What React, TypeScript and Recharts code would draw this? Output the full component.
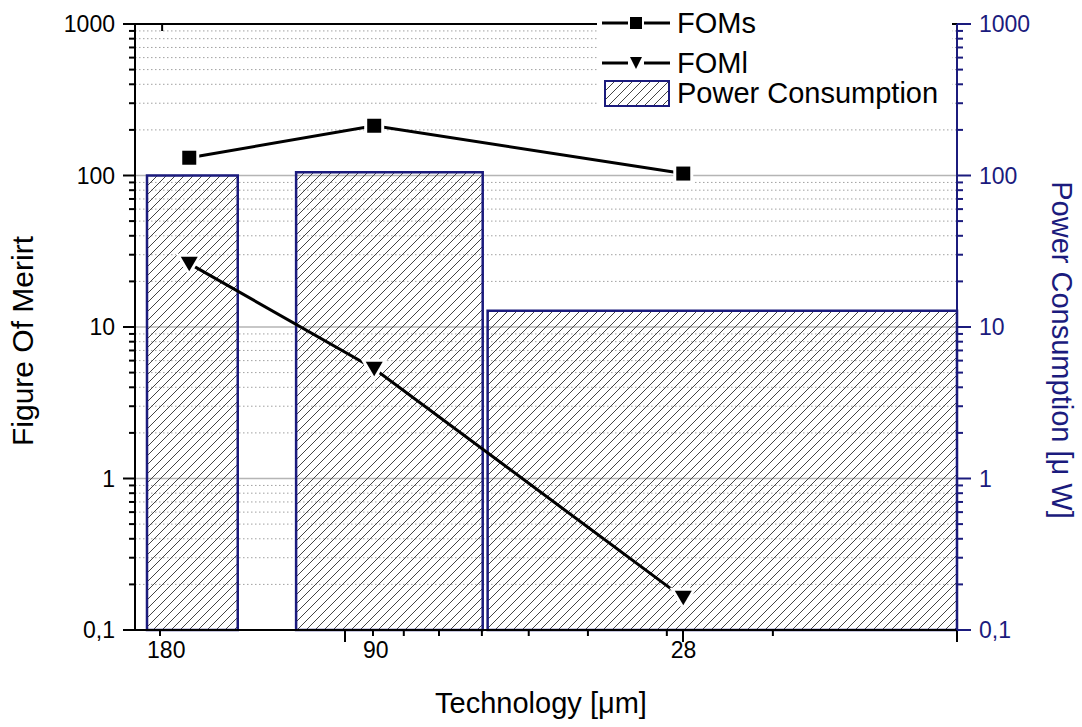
import React from 'react';
import {
  ComposedChart, Line, XAxis, YAxis, CartesianGrid, ReferenceArea, Legend,
} from 'recharts';

// ---- data ----
const techLabels = ['180', '90', '28'];
const techPos = [6.6, 29.1, 66.7];
const fomS = [131, 213, 103];
const fomL = [26.2, 5.3, 0.163];
const powerVals = [100, 105, 12.8];
const barStart = [1.46, 19.6, 42.9];
const barEnd = [12.5, 42.3, 100];

const xLabelPos = [3.8, 29.3, 66.72];
const xMajorTicks = [25.55, 66.67, 100];
const xMinorTicks = [3.04, 28.95, 32.7, 36.98, 42.2, 47.9, 55.1, 64.7, 77.6];
const xTopTicks = [3.3];
const xAllTicks = [...xLabelPos, ...xMajorTicks, ...xMinorTicks].sort((a, b) => a - b);

const yDomain = [0.1, 1000];
const yMajor = [0.1, 1, 10, 100, 1000];
const yMinor = [0.1, 1, 10, 100].flatMap((d) => [2, 3, 4, 5, 6, 7, 8, 9].map((m) => +(m * d).toPrecision(3)));
const yAllTicks = [...yMajor, ...yMinor];
const gridMajor = [1, 10, 100];

const rows = techPos.map((x, i) => ({ x, label: techLabels[i], foms: fomS[i], foml: fomL[i] }));

const NAVY = '#1b1b7d';
const FONT = '"Liberation Sans", Arial, sans-serif';

const fmt = (v: number) => String(v).replace('.', ',');

const makeYTick = (side: 'left' | 'right', color: string) => (props: any) => {
  const { x, y, payload } = props;
  const v = payload.value;
  const major = yMajor.includes(v);
  const dir = side === 'left' ? -1 : 1;
  const len = major ? (side === 'left' ? 12 : 14) : 6;
  return (
    <g>
      <line x1={x} x2={x + dir * len} y1={y} y2={y} stroke={color} strokeWidth={2} />
      {major && (
        <text
          x={x + dir * (side === 'left' ? 20 : 22)}
          y={y}
          dy="0.36em"
          textAnchor={side === 'left' ? 'end' : 'start'}
          fill={color}
          fontSize={23}
          fontFamily={FONT}
        >
          {fmt(v)}
        </text>
      )}
    </g>
  );
};

const XTick = (props: any) => {
  const { x, y, payload } = props;
  const v = payload.value;
  const li = xLabelPos.indexOf(v);
  if (li >= 0) {
    return (
      <text x={x} y={y + 12} dy="0.71em" textAnchor="middle" fontSize={23} fontFamily={FONT} fill="#000">
        {techLabels[li]}
      </text>
    );
  }
  const len = xMajorTicks.includes(v) ? 12 : 6;
  return <line x1={x} x2={x} y1={y} y2={y + len} stroke="#000" strokeWidth={2} />;
};

const TopTick = (props: any) => {
  const { x, y } = props;
  return <line x1={x} x2={x} y1={y} y2={y + 7} stroke="#000" strokeWidth={2} />;
};

const SquareDot = (props: any) => {
  const { cx, cy } = props;
  if (cx == null || cy == null) return null;
  return (
    <rect x={cx - 7} y={cy - 7} width={14} height={14} fill="#000" stroke="#fff" strokeWidth={6} style={{ paintOrder: 'stroke' }} />
  );
};

const TriDot = (props: any) => {
  const { cx, cy } = props;
  if (cx == null || cy == null) return null;
  return (
    <polygon
      points={`${cx - 8.5},${cy - 7} ${cx + 8.5},${cy - 7} ${cx},${cy + 7.5}`}
      fill="#000"
      stroke="#fff"
      strokeWidth={6}
      strokeLinejoin="miter"
      style={{ paintOrder: 'stroke' }}
    />
  );
};

const renderLegend = () => (
  <svg width={355} height={114} style={{ display: 'block', background: '#fff' }}>
    <defs>
      <pattern id="hatchLegend" patternUnits="userSpaceOnUse" width={9} height={9}>
        <path d="M-1,1 l2,-2 M0,9 l9,-9 M8,10 l2,-2" stroke="#444" strokeWidth={1} />
      </pattern>
    </defs>
    <g fontFamily={FONT} fontSize={29} fill="#000">
      <line x1={5} x2={31} y1={23} y2={23} stroke="#000" strokeWidth={3} />
      <line x1={47} x2={73} y1={23} y2={23} stroke="#000" strokeWidth={3} />
      <rect x={33} y={17} width={12} height={12} fill="#000" />
      <text x={80} y={23} dy="0.36em">FOMs</text>

      <line x1={5} x2={31} y1={63} y2={63} stroke="#000" strokeWidth={3} />
      <line x1={47} x2={73} y1={63} y2={63} stroke="#000" strokeWidth={3} />
      <polygon points="33,57 45,57 39,69" fill="#000" />
      <text x={80} y={63} dy="0.36em">FOMl</text>

      <rect x={8} y={81} width={64} height={25} fill="url(#hatchLegend)" stroke={NAVY} strokeWidth={2} />
      <text x={80} y={93} dy="0.36em">Power Consumption</text>
    </g>
  </svg>
);

const leftTitle = (p: any) => {
  const vb = p.viewBox;
  const cx = vb.x + 22;
  const cy = vb.y + vb.height / 2 + 14;
  return (
    <text x={cx} y={cy} transform={`rotate(-90 ${cx} ${cy})`} textAnchor="middle" dy="0.36em" fontSize={30} fontFamily={FONT} fill="#000">
      Figure Of Merirt
    </text>
  );
};

const rightTitle = (p: any) => {
  const vb = p.viewBox;
  const cx = vb.x + 105;
  const cy = vb.y + vb.height / 2 + 23;
  return (
    <text x={cx} y={cy} transform={`rotate(90 ${cx} ${cy})`} textAnchor="middle" dy="0.36em" fontSize={29} fontFamily={FONT} fill={NAVY}>
      Power Consumption [μ W]
    </text>
  );
};

const xTitle = (p: any) => {
  const vb = p.viewBox;
  return (
    <text x={vb.x + vb.width / 2 - 5} y={713} textAnchor="middle" fontSize={29} fontFamily={FONT} fill="#000">
      Technology [μm]
    </text>
  );
};

export default function App() {
  return (
    <div style={{ position: 'absolute', left: 0, top: 0, background: '#fff' }}>
      <ComposedChart width={1082} height={727} data={rows} margin={{ top: 23, right: 0, bottom: 96, left: 0 }}>
        <defs>
          <pattern id="hatch" patternUnits="userSpaceOnUse" width={9} height={9}>
            <path d="M-1,1 l2,-2 M0,9 l9,-9 M8,10 l2,-2" stroke="#444" strokeWidth={1} />
          </pattern>
        </defs>
        <CartesianGrid vertical={false} horizontalValues={yMinor} stroke="#a0a0a0" strokeDasharray="1.5 2.5" strokeWidth={1} />
        <CartesianGrid vertical={false} horizontalValues={gridMajor} stroke="#b5b5b5" strokeWidth={1.5} />

        <XAxis
          dataKey="x"
          type="number"
          domain={[0, 100]}
          allowDataOverflow
          ticks={xAllTicks}
          interval={0}
          tick={<XTick />}
          tickSize={0}
          tickMargin={0}
          tickLine={false}
          height={1}
          axisLine={{ stroke: '#000', strokeWidth: 2 }}
          label={{ content: xTitle }}
        />
        <XAxis
          xAxisId="xt"
          dataKey="x"
          orientation="top"
          type="number"
          domain={[0, 100]}
          allowDataOverflow
          ticks={xTopTicks}
          interval={0}
          tick={<TopTick />}
          tickSize={0}
          tickMargin={0}
          tickLine={false}
          height={1}
          axisLine={{ stroke: '#000', strokeWidth: 2 }}
        />

        <YAxis
          scale="log"
          type="number"
          domain={yDomain}
          allowDataOverflow
          ticks={yAllTicks}
          interval={0}
          width={135}
          tickSize={0}
          tickMargin={0}
          tickLine={false}
          axisLine={{ stroke: '#000', strokeWidth: 2 }}
          tick={makeYTick('left', '#000')}
          label={{ content: leftTitle }}
        />
        <YAxis
          yAxisId="right"
          orientation="right"
          scale="log"
          type="number"
          domain={yDomain}
          allowDataOverflow
          ticks={yAllTicks}
          interval={0}
          width={125}
          tickSize={0}
          tickMargin={0}
          tickLine={false}
          axisLine={{ stroke: NAVY, strokeWidth: 2 }}
          tick={makeYTick('right', NAVY)}
          label={{ content: rightTitle }}
        />

        {powerVals.map((v, i) => (
          <ReferenceArea
            key={`bar-${i}`}
            yAxisId="right"
            x1={barStart[i]}
            x2={barEnd[i]}
            y1={yDomain[0]}
            y2={v}
            fill="url(#hatch)"
            fillOpacity={1}
            stroke={NAVY}
            strokeWidth={2.5}
            ifOverflow="visible"
          />
        ))}

        <Line
          name="FOMs"
          dataKey="foms"
          stroke="#000"
          strokeWidth={3}
          dot={<SquareDot />}
          activeDot={false}
          isAnimationActive={false}
        />
        <Line
          name="FOMl"
          dataKey="foml"
          stroke="#000"
          strokeWidth={3}
          dot={<TriDot />}
          activeDot={false}
          isAnimationActive={false}
        />

        <Legend
          layout="vertical"
          align="center"
          verticalAlign="middle"
          wrapperStyle={{ left: 597, top: 0, width: 355, height: 114, background: '#fff' }}
          content={renderLegend}
        />
      </ComposedChart>
    </div>
  );
}
